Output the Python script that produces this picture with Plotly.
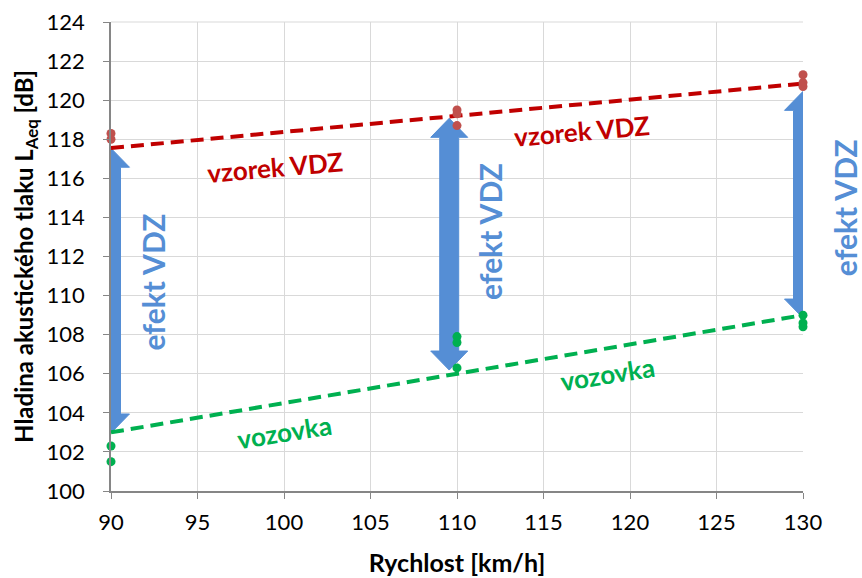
import plotly.graph_objects as go

# ---- data ----
speed_red_x = [90, 90, 110, 110, 110, 130, 130, 130]
speed_red_y = [118.3, 118.0, 119.5, 119.3, 118.7, 121.3, 120.9, 120.7]
speed_green_x = [90, 90, 110, 110, 110, 130, 130, 130]
speed_green_y = [102.3, 101.5, 107.9, 107.6, 106.3, 109.0, 108.6, 108.4]

trend_x = [90, 130]
trend_red = [117.55, 120.85]
trend_green = [103.0, 109.0]

arrow_x = [90, 109.55, 130]
arrow_top = [117.54, 119.07, 120.45]
arrow_bottom = [102.97, 106.19, 108.85]

x_ticks = [90, 95, 100, 105, 110, 115, 120, 125, 130]
y_ticks = [100, 102, 104, 106, 108, 110, 112, 114, 116, 118, 120, 122, 124]

label_red = "vzorek VDZ"
label_green = "vozovka"
label_arrow = "efekt VDZ"
red_label_pos = [(99.5, 116.6), (117.2, 118.4)]
green_label_pos = [(100.0, 103.0), (118.7, 106.0)]
arrow_label_pos = [(92.4, 110.7), (111.9, 113.3), (132.4, 114.5)]

X_MIN, X_MAX = 90, 130
Y_MIN, Y_MAX = 100, 124

RED = "#C00000"
RED_PT = "#C0504D"
GREEN = "#00B050"
BLUE = "#558ED5"
FONT = "Lato"

fig = go.Figure()

# px -> data conversions (plot area 692 x 469 px)
XU = (X_MAX - X_MIN) / 692
YU = (Y_MAX - Y_MIN) / 469
shaft_hw = 9.5 * XU
head_hw = 18.5 * XU
head_len = 19 * YU

for ax, top, bot in zip(arrow_x, arrow_top, arrow_bottom):
    px = [ax, ax + head_hw, ax + shaft_hw, ax + shaft_hw, ax + head_hw, ax,
          ax - head_hw, ax - shaft_hw, ax - shaft_hw, ax - head_hw, ax]
    py = [top, top - head_len, top - head_len, bot + head_len, bot + head_len, bot,
          bot + head_len, bot + head_len, top - head_len, top - head_len, top]
    fig.add_trace(go.Scatter(x=px, y=py, mode="lines", fill="toself",
                             fillcolor=BLUE, line=dict(width=1, color=BLUE),
                             hoverinfo="skip", showlegend=False))

fig.add_trace(go.Scatter(x=trend_x, y=trend_red, mode="lines",
                         line=dict(color=RED, width=4, dash="13px,7px"),
                         showlegend=False))
fig.add_trace(go.Scatter(x=trend_x, y=trend_green, mode="lines",
                         line=dict(color=GREEN, width=4, dash="13px,7px"),
                         showlegend=False))
fig.add_trace(go.Scatter(x=speed_red_x, y=speed_red_y, mode="markers",
                         marker=dict(color=RED_PT, size=9), showlegend=False,
                         cliponaxis=False))
fig.add_trace(go.Scatter(x=speed_green_x, y=speed_green_y, mode="markers",
                         marker=dict(color=GREEN, size=9), showlegend=False,
                         cliponaxis=False))

for (lx, ly) in red_label_pos:
    fig.add_annotation(x=lx, y=ly, text="<b>" + label_red + "</b>", showarrow=False,
                       xanchor="center", yanchor="middle",
                       textangle=-5, font=dict(family=FONT, size=26, color=RED))
for (lx, ly) in green_label_pos:
    fig.add_annotation(x=lx, y=ly, text="<b>" + label_green + "</b>", showarrow=False,
                       xanchor="center", yanchor="middle",
                       textangle=-9, font=dict(family=FONT, size=26, color=GREEN))
for (lx, ly) in arrow_label_pos:
    fig.add_annotation(x=(lx - X_MIN) / (X_MAX - X_MIN), xref="paper",
                       y=(ly - Y_MIN) / (Y_MAX - Y_MIN), yref="paper",
                       xanchor="center", yanchor="middle",
                       text="<b>" + label_arrow + "</b>", showarrow=False,
                       textangle=-90, font=dict(family=FONT, size=30, color=BLUE))

fig.update_xaxes(range=[X_MIN, X_MAX], tickvals=x_ticks, ticktext=[str(v) for v in x_ticks],
                 showgrid=True, gridcolor="#D9D9D9", gridwidth=1,
                 showline=True, linecolor="#868686", linewidth=1.5,
                 ticks="outside", ticklen=6, tickcolor="#868686",
                 ticklabelstandoff=5, automargin=False,
                 tickfont=dict(family=FONT, size=22, color="#000000"),
                 title=dict(text="<b>Rychlost [km/h]</b>", standoff=20,
                            font=dict(family=FONT, size=25, color="#000000")),
                 zeroline=False, mirror=False)
fig.update_yaxes(range=[Y_MIN, Y_MAX], tickvals=y_ticks, ticktext=[str(v) for v in y_ticks],
                 showgrid=True, gridcolor="#D9D9D9", gridwidth=1,
                 showline=True, linecolor="#868686", linewidth=1.5,
                 ticks="outside", ticklen=6, tickcolor="#868686",
                 ticklabelstandoff=14, automargin=False,
                 tickfont=dict(family=FONT, size=22, color="#000000"),
                 title=dict(text="<b>Hladina akustického tlaku L<sub>Aeq</sub> [dB]</b>", standoff=6,
                            font=dict(family=FONT, size=24, color="#000000")),
                 zeroline=False)

fig.add_shape(type="line", xref="paper", yref="paper", x0=0, x1=1, y0=1, y1=1,
              line=dict(color="#D9D9D9", width=1))

fig.update_layout(width=862, height=578,
                  margin=dict(l=111, r=59, t=22, b=87),
                  paper_bgcolor="white", plot_bgcolor="white",
                  showlegend=False)

fig.write_html("out.html", config={"displayModeBar": False},
               post_script="document.body.style.margin='0';")
